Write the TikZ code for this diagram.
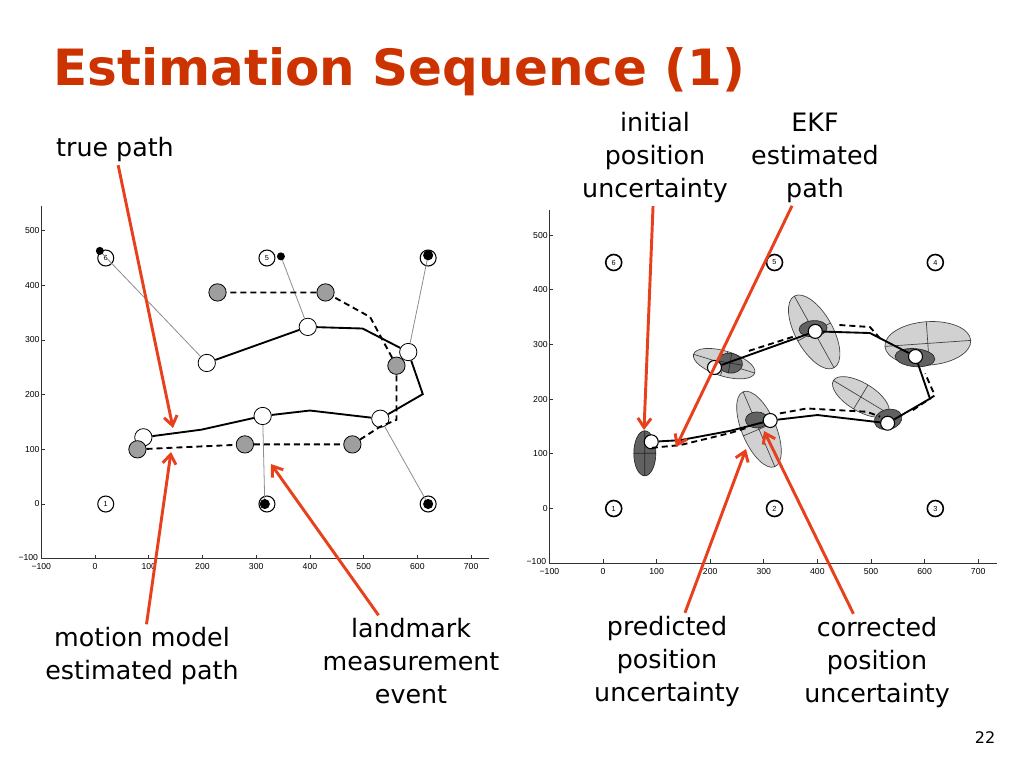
\documentclass[tikz,border=0pt]{standalone}
\usepackage{fontspec}
\setmainfont{DejaVu Sans}
\newfontfamily\axisfont{Liberation Sans}
\usetikzlibrary{arrows.meta}
\definecolor{titlered}{HTML}{CC3300}
\definecolor{callred}{HTML}{E8401C}
\definecolor{predgray}{gray}{0.82}
\definecolor{corrgray}{gray}{0.38}
\definecolor{odogray}{gray}{0.62}
\tikzset{
    lbl/.style={font=\fontsize{19}{24.75}\selectfont, align=center, inner sep=2pt},
    callout/.style={draw=callred, line width=2.2pt, -{Straight Barb[length=7pt,width=10pt]}},
    axisline/.style={draw=black!80, line width=0.6pt},
    ticklbl/.style={font=\axisfont\fontsize{6.5}{7}\selectfont, inner sep=1pt},
    landmark/.style={circle, draw, line width=0.8pt, fill=white, minimum size=12pt, inner sep=0pt, font=\axisfont\fontsize{5.5}{6}\selectfont},
    truepose/.style={circle, draw, line width=0.6pt, fill=white, minimum size=13pt, inner sep=0pt},
    odopose/.style={truepose, fill=odogray},
    ekfpose/.style={truepose, line width=0.8pt, minimum size=10.5pt},
    truepath/.style={line width=1.4pt},
    estpath/.style={line width=1.4pt, dash pattern=on 4.5pt off 3pt},
    measline/.style={draw=black!45, line width=0.6pt},
    predcov/.style={fill=predgray, draw=black!75, line width=0.5pt},
    corrcov/.style={fill=corrgray, draw=black!85, line width=0.5pt},
}
\begin{document}
\begin{tikzpicture}[x=0.75pt,y=-0.75pt]
    \useasboundingbox (0,0) rectangle (1024,768);
    \node[anchor=base west, text=titlered, font=\bfseries\fontsize{37.5}{44}\selectfont] (title) at (49,85) {Estimation Sequence (1)};

    \begin{scope}[shift={(95,504)}, x=0.403pt, y=0.41pt]
        \draw[axisline] (-100,546) -- (-100,-100) -- (733,-100);
        \foreach \t/\s in {-100/−100,0/0,100/100,200/200,300/300,400/400,500/500,600/600,700/700}
            \draw[axisline] (\t,-100) -- ++(0,3pt) node[ticklbl, pos=0, below=2.5pt] {\s};
        \foreach \t/\s in {0/0,100/100,200/200,300/300,400/400,500/500}
            \draw[axisline] (-100,\t) -- ++(3pt,0) node[ticklbl, pos=0, left] {\s};
        \node[ticklbl, anchor=east] at (-103,-97) {−100};
        \node[landmark] (a1) at (20,0) {1};
        \node[landmark] (a2) at (320,0) {2};
        \node[landmark] (a3) at (620,0) {3};
        \node[landmark] (a4) at (620,450) {4};
        \node[landmark] (a5) at (320,450) {5};
        \node[landmark] (a6) at (20,450) {6};
        \coordinate (m2) at (316,0);
        \coordinate (m3) at (620,0);
        \coordinate (m4) at (620,455);
        \coordinate (m5) at (346,453);
        \coordinate (m6) at (9,463);
        \node[truepose] (t1) at (90,122) {};
        \node[truepose] (t2) at (312,161) {};
        \node[truepose] (t3) at (531,156) {};
        \node[truepose] (t4) at (583,278) {};
        \node[truepose] (t5) at (396,324) {};
        \node[truepose] (t6) at (208,258) {};
        \node[odopose] (o1) at (79,100) {};
        \node[odopose] (o2) at (279,109) {};
        \node[odopose] (o3) at (479,109) {};
        \node[odopose] (o4) at (561,253) {};
        \node[odopose] (o5) at (429,387) {};
        \node[odopose] (o6) at (228,387) {};
        \draw[measline] (m2) -- (t2);
        \draw[measline] (m3) -- (t3);
        \draw[measline] (m4) -- (t4);
        \draw[measline] (m5) -- (t5);
        \draw[measline] (m6) -- (t6);
        \fill (m2) circle(3.8pt);
        \fill (m3) circle(3.8pt);
        \fill (m4) circle(3.8pt);
        \fill (m5) circle(3pt);
        \fill (m6) circle(3pt);
        \draw[truepath] (t1) -- (198,136) -- (t2) -- (400,171) -- (t3) -- (610,201) -- (t4) -- (498,321) -- (t5) -- (t6);
        \draw[estpath] (o1) -- (o2) -- (o3) -- (530,141) -- (561,154) -- (o4) -- (512,342) -- (o5) -- (o6);
    \end{scope}

    \begin{scope}[shift={(603,508.5)}, x=0.402pt, y=0.41pt]
        \draw[axisline] (-100,546) -- (-100,-100) -- (735,-100);
        \foreach \t/\s in {-100/−100,0/0,100/100,200/200,300/300,400/400,500/500,600/600,700/700}
            \draw[axisline] (\t,-100) -- ++(0,3pt) node[ticklbl, pos=0, below=2.5pt] {\s};
        \foreach \t/\s in {0/0,100/100,200/200,300/300,400/400,500/500}
            \draw[axisline] (-100,\t) -- ++(3pt,0) node[ticklbl, pos=0, left] {\s};
        \node[ticklbl, anchor=east] at (-103,-97) {−100};
        \node[landmark, line width=1.2pt] (b1) at (20,0) {1};
        \node[landmark, line width=1.2pt] (b2) at (320,0) {2};
        \node[landmark, line width=1.2pt] (b3) at (620,0) {3};
        \node[landmark, line width=1.2pt] (b4) at (620,450) {4};
        \node[landmark, line width=1.2pt] (b5) at (320,450) {5};
        \node[landmark, line width=1.2pt] (b6) at (20,450) {6};
        \filldraw[predcov, shift={(226,265)}, rotate=-17] (0,0) ellipse[x radius=24pt, y radius=9.4pt] (-24pt,0) -- (24pt,0) (0,-9.4pt) -- (0,9.4pt);
        \filldraw[predcov, shift={(394,323)}, rotate=-61] (0,0) ellipse[x radius=30.75pt, y radius=14pt] (-30.75pt,0) -- (30.75pt,0) (0,-14pt) -- (0,14pt);
        \filldraw[predcov, shift={(606,302)}, rotate=4] (0,0) ellipse[x radius=32.25pt, y radius=16.3pt] (-32.25pt,0) -- (32.25pt,0) (0,-16.3pt) -- (0,16.3pt);
        \filldraw[predcov, shift={(481,204)}, rotate=-31] (0,0) ellipse[x radius=24pt, y radius=10.5pt] (-24pt,0) -- (24pt,0) (0,-10.5pt) -- (0,10.5pt);
        \filldraw[predcov, shift={(291,145)}, rotate=-67] (0,0) ellipse[x radius=30.5pt, y radius=12.75pt] (-30.5pt,0) -- (30.5pt,0) (0,-12.75pt) -- (0,12.75pt);
        \filldraw[corrcov, shift={(78,101)}] (0,0) ellipse[x radius=8.25pt, y radius=16.9pt] (-8.25pt,0) -- (8.25pt,0) (0,-16.9pt) -- (0,16.9pt);
        \filldraw[corrcov, shift={(237,266)}, rotate=-10] (0,0) ellipse[x radius=9.4pt, y radius=7.5pt] (-9.4pt,0) -- (9.4pt,0) (0,-7.5pt) -- (0,7.5pt);
        \filldraw[corrcov, shift={(392,329)}, rotate=5] (0,0) ellipse[x radius=10.5pt, y radius=6pt];
        \filldraw[corrcov, shift={(582,276)}, rotate=-5] (0,0) ellipse[x radius=15pt, y radius=6.75pt];
        \filldraw[corrcov, shift={(532,163)}, rotate=15] (0,0) ellipse[x radius=10.5pt, y radius=7.5pt];
        \filldraw[corrcov, shift={(287,162)}] (0,0) ellipse[x radius=8.5pt, y radius=6pt];
        \node[ekfpose] (r1) at (90,122) {};
        \node[ekfpose] (r2) at (312,161) {};
        \node[ekfpose] (r3) at (531,156) {};
        \node[ekfpose] (r4) at (583,278) {};
        \node[ekfpose] (r5) at (396,324) {};
        \node[ekfpose] (r6) at (208,258) {};
        \draw[truepath] (r1) -- (144,125) -- (237,142) -- (r2) -- (400,171) -- (r3) -- (610,201) -- (r4) -- (498,321) -- (r5) -- (r6);
        \draw[estpath] (91,111) -- (144,116) -- (237,138) -- (270,148) (330,174) -- (380,183) -- (492,177) -- (517,168) (578,180) -- (619,207) -- (601,247) (517,311) -- (498,332) -- (436,336) (354,314) -- (268,287);
    \end{scope}

    \node[lbl] (tp) at (115,150) {true path};
    \node[lbl] (mm) at (142,656) {motion model\\estimated path};
    \node[lbl] (lm) at (411,661) {landmark\\measurement\\event};
    \node[lbl] (ini) at (655,158) {initial\\position\\uncertainty};
    \node[lbl] (ekf) at (815,158) {EKF\\estimated\\path};
    \node[lbl] (pred) at (667,661) {predicted\\position\\uncertainty};
    \node[lbl] (corr) at (877,662) {corrected\\position\\uncertainty};
    \node[font=\fontsize{12}{14}\selectfont] (page) at (985,738) {22};

    \coordinate (tpTip) at (173,428);
    \coordinate (mmTip) at (171,452);
    \coordinate (lmTip) at (271,464);
    \coordinate (iniTip) at (644,430);
    \coordinate (ekfTip) at (676,447);
    \coordinate (predTip) at (746,449);
    \coordinate (corrTip) at (764,431);
    \draw[callout] (tp) -- (tpTip);
    \draw[callout] (mm) -- (mmTip);
    \draw[callout] (lm) -- (lmTip);
    \draw[callout] (ini) -- (iniTip);
    \draw[callout] (ekf) -- (ekfTip);
    \draw[callout] (pred) -- (predTip);
    \draw[callout] (corr) -- (corrTip);
\end{tikzpicture}
\end{document}
